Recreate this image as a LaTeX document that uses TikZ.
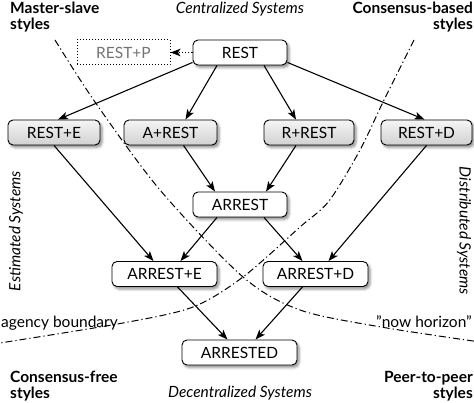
\documentclass[tikz,border=0pt]{standalone}
\usepackage{fontspec}
\setmainfont{Lato}
\usetikzlibrary{arrows.meta,shapes,positioning,calc,shadows.blur}

\begin{document}
\begin{tikzpicture}[x=1pt,y=-1pt,>={Stealth[length=10pt,width=7.5pt,inset=2.5pt]},
  every node/.style={font=\fontsize{15.5}{16}\selectfont},
  state/.style={draw,rounded corners=5pt,line width=0.9pt,minimum width=92pt,minimum height=25pt,fill=white,
    blur shadow={shadow xshift=2pt,shadow yshift=-2.5pt,shadow blur radius=2.5pt,shadow opacity=45}},
  derived/.style={state,top color=black!4,bottom color=black!18},
  edge/.style={->,line width=1.1pt},
  boundary/.style={line width=1pt,dash pattern=on 7pt off 3pt on 1.2pt off 3pt},
  region/.style={font=\fontsize{15.5}{16}\selectfont\itshape},
  family/.style={font=\fontsize{15.5}{16}\selectfont\bfseries,inner sep=0pt}]
\useasboundingbox (0,0) rectangle (474,403);
\draw[boundary] plot[smooth] coordinates {(55,40) (95,102) (160,190) (243,277) (300,310) (381,327) (480,342)};
\draw[boundary] plot[smooth] coordinates {(414,40) (384,100) (360,150) (329,201) (300,227) (243,277) (193,307) (123,323) (0,343)};
\node[inner sep=0pt,anchor=base west] (agency) at (1,327) {agency boundary};
\node[inner sep=0pt,anchor=base east] (horizon) at (472,328) {"now horizon"};
\node[family,anchor=north west,align=left] (master) at (10,2) {Master-slave\\styles};
\node[family,anchor=north east,align=right] (consensus) at (473,2) {Consensus-based\\styles};
\node[family,anchor=south west,align=left] (free) at (10,401) {Consensus-free\\styles};
\node[family,anchor=south east,align=right] (peer) at (473,401) {Peer-to-peer\\styles};
\node[region,anchor=base] (central) at (240,13.5) {Centralized Systems};
\node[region,anchor=base] (decentral) at (240,397) {Decentralized Systems};
\node[region,rotate=90] (estimated) at (16,231) {Estimated Systems};
\node[region,rotate=-90] (distributed) at (464,231) {Distributed Systems};
\node[state,minimum width=94pt] (rest) at (240,52.5) {REST};
\node[draw,dotted,line width=1pt,text=black!55,minimum width=93pt,minimum height=25pt] (restp) at (123.5,52.5) {REST+P};
\node[derived] (reste) at (54,132.5) {REST+E};
\node[derived,minimum width=93pt] (arest) at (170.5,132.5) {A+REST};
\node[derived,minimum width=90pt] (rrest) at (309,132.5) {R+REST};
\node[derived,minimum width=91pt] (restd) at (426.5,132.5) {REST+D};
\node[state,minimum width=94pt] (arrest) at (240,204.5) {ARREST};
\node[state,minimum width=105pt] (arreste) at (164.5,274) {ARREST+E};
\node[state,minimum width=105pt] (arrestd) at (315.5,274) {ARREST+D};
\node[state,minimum width=115pt] (arrested) at (239.5,352.5) {ARRESTED};
\draw[->,dotted,line width=1.2pt] (rest.west)--(restp.east);
\draw[edge] ([yshift=3pt]rest.south west)--([xshift=4pt]reste.north);
\draw[edge] ([xshift=-23pt]rest.south)--([xshift=15pt]arest.north);
\draw[edge] ([xshift=24pt]rest.south)--([xshift=-13pt]rrest.north);
\draw[edge] ([yshift=3pt]rest.south east)--([xshift=-2pt]restd.north);
\draw[edge] (reste.south)--([xshift=-11pt]arreste.north);
\draw[edge] ([xshift=13pt]arest.south)--([xshift=-25pt]arrest.north);
\draw[edge] ([xshift=-13pt]rrest.south)--([xshift=26pt]arrest.north);
\draw[edge] ([xshift=-23pt]arrest.south)--([xshift=16pt]arreste.north);
\draw[edge] ([xshift=24pt]arrest.south)--([xshift=-13pt]arrestd.north);
\draw[edge] (restd.south)--([xshift=13pt]arrestd.north);
\draw[edge] ([xshift=13pt]arreste.south)--([xshift=-12pt]arrested.north);
\draw[edge] ([xshift=-13pt]arrestd.south)--([xshift=16pt]arrested.north);
\end{tikzpicture}
\end{document}
